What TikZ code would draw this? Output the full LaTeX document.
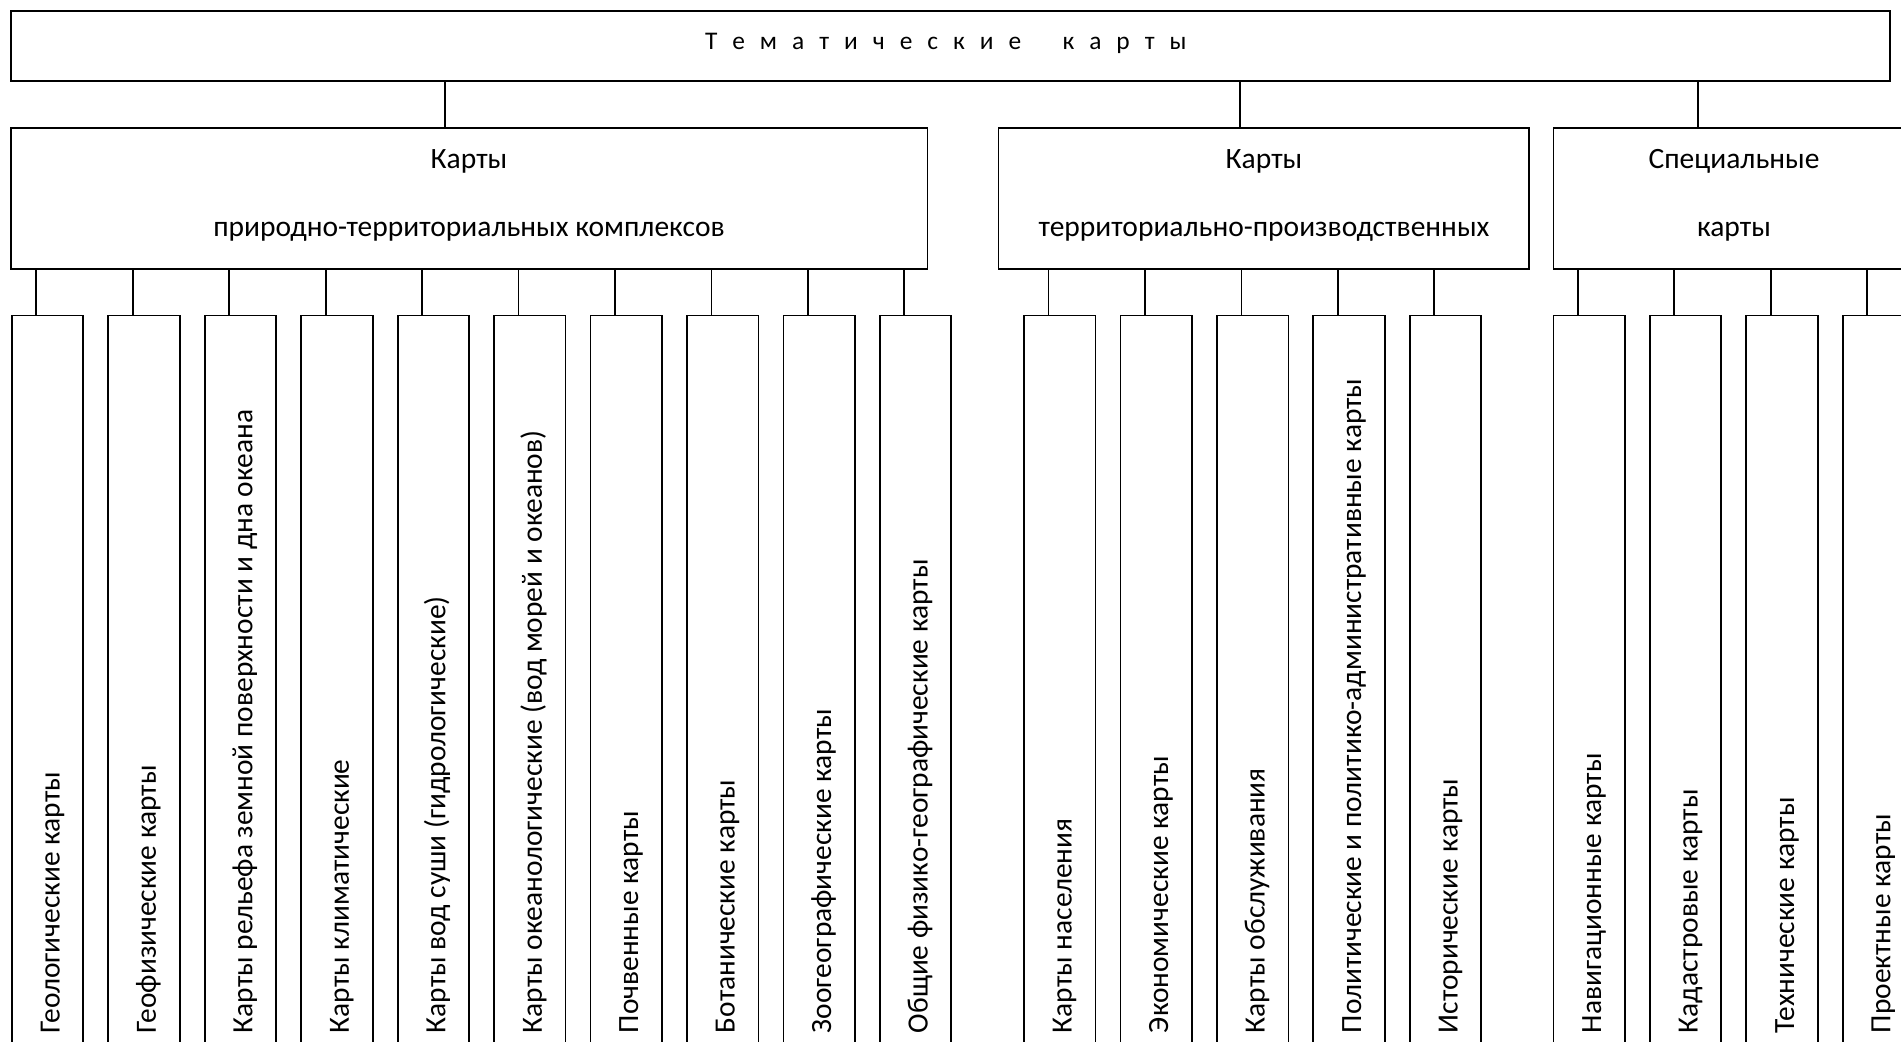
\documentclass[tikz,border=0pt]{standalone}
\usepackage{fontspec}
\setmainfont{Carlito}
\usetikzlibrary{calc}
\tikzset{
  box/.style={draw, line width=0.9pt, rectangle, inner sep=0pt, outer sep=0pt, anchor=north west},
  leafbox/.style={box, minimum width=35.75pt, minimum height=380pt},
  midtext/.style={anchor=base, inner sep=0pt, font=\fontsize{14.75}{17}\selectfont},
  leaftext/.style={anchor=base west, rotate=90, inner sep=0pt, font=\fontsize{14.7}{17}\selectfont},
  conn/.style={line width=0.9pt}
}
\begin{document}
\begin{tikzpicture}[x=0.5pt,y=-0.5pt]
\path[use as bounding box] (0,0) rectangle (1901,1042);
\clip (0,0) rectangle (1901,1042);
\fill[white] (0,0) rectangle (1901,1042);

% top box
\node[box, minimum width=939.65pt, minimum height=35pt] (top) at (10.7,10.7) {};
\node[anchor=base, inner sep=0pt, font=\fontsize{12.7}{15}\selectfont] (title) at (945.75,49.3)
  {\hbox to 240.75pt{Т\hfil е\hfil м\hfil а\hfil т\hfil и\hfil ч\hfil е\hfil с\hfil к\hfil и\hfil е\hskip 0pt plus 2.75fil к\hfil а\hfil р\hfil т\hfil ы}};

% second level
\node[box, minimum width=458.4pt, minimum height=70.5pt] (A) at (10.7,127.7) {};
\node[box, minimum width=265.25pt, minimum height=70.5pt] (B) at (998.5,127.7) {};
\node[box, minimum width=180.8pt, minimum height=70.5pt] (C) at (1553.4,127.7) {};

\node[midtext] (A1) at (469,169) {Карты};
\node[midtext] (A2) at (469,236.3) {природно-территориальных комплексов};
\node[midtext] (B1) at (1264,169) {Карты};
\node[midtext] (B2) at (1264,236.3) {территориально-производственных};
\node[midtext] (C1) at (1734,169) {Специальные};
\node[midtext] (C2) at (1734,236.3) {карты};

\coordinate (tA) at (445,0);
\coordinate (tB) at (1240,0);
\coordinate (tC) at (1697.7,0);
\draw[conn] (tA |- top.south) -- (tA |- A.north);
\draw[conn] (tB |- top.south) -- (tB |- B.north);
\draw[conn] (tC |- top.south) -- (tC |- C.north);

% leaves
\foreach \i/\t in {1/{Геологические карты},2/{Геофизические карты},3/{Карты рельефа земной поверхности и дна океана},4/{Карты климатические},5/{Карты вод суши (гидрологические)},6/{Карты океанологические (вод морей и океанов)},7/{Почвенные карты},8/{Ботанические карты},9/{Зоогеографические карты},10/{Общие физико-географические карты}}{
  \pgfmathsetmacro{\lx}{11.8+(\i-1)*96.45}
  \node[leafbox] (lA\i) at (\lx,315.5) {};
  \node[leaftext] (tA\i) at (\lx+47.7,1033.5) {\t};
  \coordinate (cA\i) at ([xshift=12.25pt]lA\i.north west);
  \draw[conn] (cA\i) -- (cA\i |- A.south);
}
\foreach \i/\t in {1/{Карты населения},2/{Экономические карты},3/{Карты обслуживания},4/{Политические и политико-административные карты},5/{Исторические карты}}{
  \pgfmathsetmacro{\lx}{1024+(\i-1)*96.45}
  \node[leafbox] (lB\i) at (\lx,315.5) {};
  \node[leaftext] (tB\i) at (\lx+47.7,1033.5) {\t};
  \coordinate (cB\i) at ([xshift=12.25pt]lB\i.north west);
  \draw[conn] (cB\i) -- (cB\i |- B.south);
}
\foreach \i/\t in {1/{Навигационные карты},2/{Кадастровые карты},3/{Технические карты},4/{Проектные карты}}{
  \pgfmathsetmacro{\lx}{1553.4+(\i-1)*96.45}
  \node[leafbox] (lC\i) at (\lx,315.5) {};
  \node[leaftext] (tC\i) at (\lx+47.7,1033.5) {\t};
  \coordinate (cC\i) at ([xshift=12.25pt]lC\i.north west);
  \draw[conn] (cC\i) -- (cC\i |- C.south);
}
\end{tikzpicture}
\end{document}
